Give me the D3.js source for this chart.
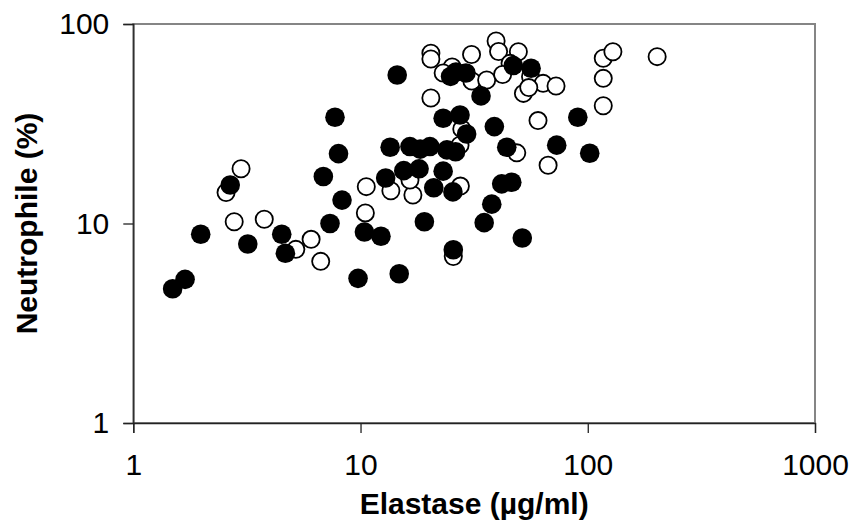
<!DOCTYPE html>
<html>
<head>
<meta charset="utf-8">
<script src="https://cdn.jsdelivr.net/npm/d3@7"></script>
<style>
  body { margin: 0; background: #fff; }
  text { font-family: Arial, 'Liberation Sans', sans-serif; }
</style>
</head>
<body>
<script>
const width = 851;
const height = 528;

// filled circles: elastase (µg/ml) vs neutrophile (%)
const filledElastase = [1.49, 1.69, 1.98, 2.67, 3.19, 4.5, 4.67, 6.86, 7.34, 8.0, 8.29, 7.72, 9.75, 10.4, 12.3, 12.9, 13.5, 14.8, 14.5, 16.5, 18.3, 20.2, 24.0, 26.2, 15.5, 18.1, 23.1, 21.0, 25.5, 19.1, 25.6, 23.1, 27.4, 29.3, 38.8, 33.9, 24.9, 26.3, 29.1, 47.0, 56.3, 44.0, 41.8, 46.3, 37.8, 35.0, 51.5, 90.4, 73.0, 102];
const filledNeutro = [4.71, 5.25, 8.83, 15.6, 7.89, 8.83, 7.09, 17.2, 10.0, 22.4, 13.1, 34.1, 5.31, 9.07, 8.63, 16.9, 24.1, 5.6, 55.5, 24.3, 23.6, 24.3, 23.4, 22.9, 18.4, 18.8, 18.3, 15.1, 14.4, 10.2, 7.39, 33.7, 35.0, 28.1, 30.6, 43.6, 54.6, 57.5, 56.8, 61.9, 60.0, 24.1, 15.8, 16.1, 12.5, 10.1, 8.46, 34.1, 24.7, 22.5];

// open circles
const openElastase = [2.56, 2.98, 2.78, 3.77, 5.19, 6.06, 6.68, 10.6, 10.5, 13.6, 17.0, 16.5, 27.5, 25.6, 27.9, 27.4, 48.7, 66.9, 20.4, 20.4, 30.8, 39.5, 40.5, 49.5, 45.5, 25.3, 30.9, 35.9, 42.2, 56.0, 63.6, 72.5, 52.1, 20.4, 60.4, 117, 129, 202, 117, 117, 23.1, 55.0];
const openNeutro = [14.3, 18.8, 10.2, 10.5, 7.42, 8.33, 6.46, 15.3, 11.3, 14.6, 13.9, 16.5, 15.4, 6.83, 29.8, 24.7, 22.6, 19.6, 71.3, 66.8, 70.3, 82.2, 72.8, 72.6, 63.5, 60.9, 51.8, 52.4, 55.8, 54.4, 50.4, 48.9, 44.9, 42.6, 32.8, 67.3, 72.6, 68.6, 53.4, 38.9, 56.8, 48.0];

const xTicks = [1, 10, 100, 1000];
const yTicks = [1, 10, 100];

const margin = { top: 24, right: 36, bottom: 105, left: 133.3 };

const svg = d3.select('body')
  .append('svg')
  .attr('width', width)
  .attr('height', height);

const x = d3.scaleLog()
  .domain([1, 1000])
  .range([margin.left, width - margin.right]);

const y = d3.scaleLog()
  .domain([1, 100])
  .range([height - margin.bottom, margin.top]);

// plot area border (grey)
svg.append('rect')
  .attr('x', x(1))
  .attr('y', y(100))
  .attr('width', x(1000) - x(1))
  .attr('height', y(1) - y(100))
  .attr('fill', 'none')
  .attr('stroke', '#858585')
  .attr('stroke-width', 2);

// axes
const xAxis = svg.append('g')
  .attr('transform', `translate(0,${y(1)})`)
  .call(d3.axisBottom(x).tickValues(xTicks).tickFormat(d3.format('d')).tickSize(10).tickPadding(21));

const yAxis = svg.append('g')
  .attr('transform', `translate(${x(1)},0)`)
  .call(d3.axisLeft(y).tickValues(yTicks).tickFormat(d3.format('d')).tickSize(10).tickPadding(14));

[xAxis, yAxis].forEach((g) => {
  g.select('.domain').attr('stroke', '#222').attr('stroke-width', 1.3);
  g.selectAll('.tick line').attr('stroke', '#222').attr('stroke-width', 1.3);
  g.selectAll('.tick text')
    .attr('fill', '#000')
    .style('font-size', '30px')
    .style('font-family', 'Arial, "Liberation Sans", sans-serif');
});

// open circles first, filled drawn over them
svg.append('g')
  .selectAll('circle')
  .data(openElastase.map((d, i) => [d, openNeutro[i]]))
  .join('circle')
  .attr('cx', (d) => x(d[0]))
  .attr('cy', (d) => y(d[1]))
  .attr('r', 8.6)
  .attr('fill', '#fff')
  .attr('stroke', '#000')
  .attr('stroke-width', 1.8);

svg.append('g')
  .selectAll('circle')
  .data(filledElastase.map((d, i) => [d, filledNeutro[i]]))
  .join('circle')
  .attr('cx', (d) => x(d[0]))
  .attr('cy', (d) => y(d[1]))
  .attr('r', 9.8)
  .attr('fill', '#000');

// axis titles
svg.append('text')
  .attr('x', (x(1) + x(1000)) / 2)
  .attr('y', 514)
  .attr('text-anchor', 'middle')
  .style('font-size', '30px')
  .style('font-weight', 'bold')
  .text('Elastase (µg/ml)');

svg.append('text')
  .attr('transform', `translate(37,${(y(1) + y(100)) / 2}) rotate(-90)`)
  .attr('text-anchor', 'middle')
  .style('font-size', '30px')
  .style('font-weight', 'bold')
  .text('Neutrophile (%)');
</script>
</body>
</html>
